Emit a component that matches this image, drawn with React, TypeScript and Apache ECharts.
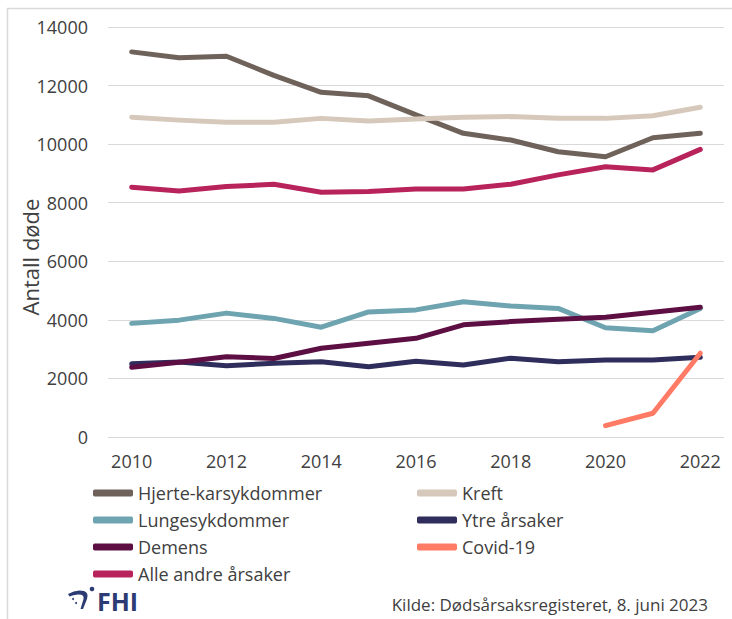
import React, { useEffect, useRef } from "react";
import * as echarts from "echarts";

const years = ["2010","2011","2012","2013","2014","2015","2016","2017","2018","2019","2020","2021","2022"];
const hjerte = [13150, 12950, 13000, 12350, 11770, 11650, 11000, 10370, 10140, 9740, 9570, 10220, 10370];
const kreft = [10920, 10820, 10750, 10750, 10880, 10790, 10860, 10920, 10940, 10880, 10880, 10970, 11260];
const lunge = [3880, 3990, 4230, 4050, 3750, 4270, 4340, 4620, 4470, 4390, 3730, 3630, 4390];
const ytre = [2500, 2560, 2430, 2520, 2570, 2400, 2590, 2460, 2690, 2570, 2630, 2630, 2720];
const demens = [2380, 2550, 2740, 2680, 3030, 3200, 3370, 3830, 3940, 4020, 4090, 4260, 4430];
const covid = [null, null, null, null, null, null, null, null, null, null, 390, 810, 2860];
const alleAndre = [8530, 8400, 8550, 8630, 8360, 8380, 8470, 8470, 8630, 8950, 9230, 9120, 9820];

const seriesNames = ["Hjerte-karsykdommer", "Kreft", "Lungesykdommer", "Ytre årsaker", "Demens", "Covid-19", "Alle andre årsaker"];
const seriesData = [hjerte, kreft, lunge, ytre, demens, covid, alleAndre];
const seriesColors = ["#6f625a", "#d6c9bb", "#6ea3b0", "#2f2d5c", "#5d0e43", "#ff7b65", "#b7235a"];

const yTicks = { min: 0, max: 14000, interval: 2000 };
const yName = "Antall døde";
const source = "Kilde: Dødsårsaksregisteret, 8. juni 2023";

const FONT = "'Open Sans', sans-serif";

echarts.graphic.registerShape(
  "fhiIcon",
  echarts.graphic.extendPath(
    "M0 7 Q8 2 16 4 Q21 6 19 12 L15 22 L12.5 22 L15.5 12 Q16.5 7 10 7.5 Q5 8 1.5 9.5 Z",
    {}
  )
);

export default function App() {
  const ref = useRef<HTMLDivElement>(null);
  useEffect(() => {
    if (!ref.current) return;
    const chart = echarts.init(ref.current, null, { renderer: "svg" });
    const col1 = [seriesNames[0], seriesNames[2], seriesNames[4], seriesNames[6]];
    const col2 = [seriesNames[1], seriesNames[3], seriesNames[5]];
    const legendBase = {
      orient: "vertical",
      top: 483,
      itemWidth: 40,
      itemHeight: 7,
      itemGap: 7,
      icon: "roundRect",
      textStyle: { fontFamily: FONT, fontSize: 18, color: "#404040", lineHeight: 20 },
      padding: 0,
    };
    chart.setOption({
      animation: false,
      grid: { left: 108, right: 8, top: 27, bottom: 182 },
      xAxis: {
        type: "category",
        data: years,
        boundaryGap: true,
        axisLine: { show: true, lineStyle: { color: "#d9d9d9", width: 1 } },
        axisTick: { show: false },
        axisLabel: { interval: 1, margin: 15, fontFamily: FONT, fontSize: 18, color: "#404040" },
      },
      yAxis: {
        type: "value",
        min: yTicks.min,
        max: yTicks.max,
        interval: yTicks.interval,
        axisLabel: { margin: 20, fontFamily: FONT, fontSize: 18, color: "#404040", formatter: (v: number) => String(v) },
        axisLine: { show: false },
        axisTick: { show: false },
        splitLine: { lineStyle: { color: "#d9d9d9", width: 1 } },
      },
      legend: [
        { ...legendBase, left: 93, data: col1 },
        { ...legendBase, left: 417, data: col2 },
      ],
      series: seriesNames.map((name, i) => ({
        name,
        type: "line",
        data: seriesData[i],
        showSymbol: false,
        symbol: "none",
        color: seriesColors[i],
        lineStyle: { width: 5, color: seriesColors[i], cap: "round", join: "round" },
        itemStyle: { color: seriesColors[i] },
      })),
      graphic: [
        {
          type: "rect",
          silent: true,
          shape: { x: 7.5, y: 8.5, width: 800, height: 700 },
          style: { fill: "none", stroke: "#d9d9d9", lineWidth: 1.5 },
        },
        {
          type: "text",
          x: 30,
          y: 257,
          rotation: Math.PI / 2,
          style: { text: yName, fontFamily: FONT, fontSize: 22, fill: "#404040", align: "center", verticalAlign: "middle" },
        },
        {
          type: "text",
          x: 708,
          y: 604,
          style: { text: source, fontFamily: FONT, fontSize: 17, fill: "#404040", align: "right", verticalAlign: "middle" },
        },
        {
          type: "text",
          x: 97,
          y: 601,
          style: { text: "FHI", fontFamily: FONT, fontSize: 25, fontWeight: "bold", fill: "#2c3b73", verticalAlign: "middle" },
        },
        {
          type: "fhiIcon",
          x: 68,
          y: 587,
          scaleX: 1,
          scaleY: 1,
          style: { fill: "#2c3b73" },
        },
        { type: "circle", shape: { cx: 92, cy: 589, r: 2.3 }, style: { fill: "#2c3b73" } },
        { type: "circle", shape: { cx: 73, cy: 599, r: 1 }, style: { fill: "#2c3b73" } },
        { type: "circle", shape: { cx: 76, cy: 603, r: 1 }, style: { fill: "#2c3b73" } },
      ],
    });
    return () => chart.dispose();
  }, []);
  return (
    <div
      ref={ref}
      style={{ position: "fixed", left: 0, top: 0, width: 732, height: 619, background: "#fff" }}
    />
  );
}
